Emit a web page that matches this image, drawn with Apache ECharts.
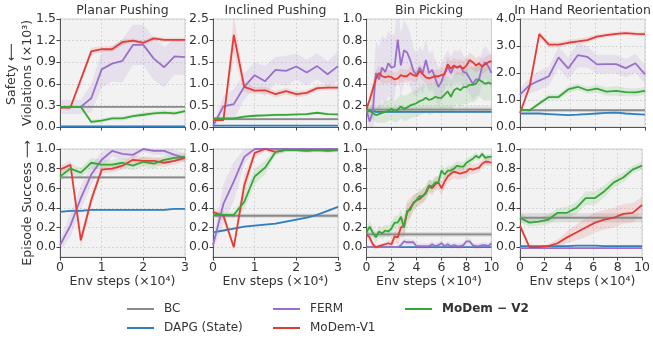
<!DOCTYPE html>
<html><head><meta charset="utf-8">
<script src="https://cdn.jsdelivr.net/npm/echarts@6/dist/echarts.min.js"></script>
<style>html,body{margin:0;padding:0;background:#fff}#c{width:653px;height:339px}</style>
</head><body><div id="c"></div><script>
// ---------- categories / x values ----------
const taskTitles = ['Planar Pushing','Inclined Pushing','Bin Picking','In Hand Reorientation'];
const methodNames = ['BC','DAPG (State)','FERM','MoDem-V1','MoDem − V2'];
const pushX = [0,0.25,0.5,0.75,1,1.25,1.5,1.75,2,2.25,2.5,2.75,3];
const binX = [0,0.25,0.5,0.75,1,1.25,1.5,1.75,2,2.25,2.5,2.75,3,3.25,3.5,3.75,4,4.25,4.5,4.75,5,5.25,5.5,5.75,6,6.25,6.5,6.75,7,7.25,7.5,7.75,8,8.25,8.5,8.75,9,9.25,9.5,9.75,10];
const handX = [0,0.77,1.54,2.31,3.08,3.85,4.62,5.38,6.15,6.92,7.69,8.46,9.23,10];
const pushXTicks = [0,1,2,3];
const longXTicks = [0,2,4,6,8,10];
const successTicks = [0,0.2,0.4,0.6,0.8,1.0];

// ---------- BC (constant) ----------
const bcSafety = [0.28,0.18,0.16,0.62];
const bcSafetySpread = [0.01,0.03,0.03,0.05];
const bcSuccess = [0.71,0.32,0.13,0.30];
const bcSuccessSpread = [0.015,0.02,0.025,0.045];

// ---------- Planar Pushing safety ----------
const planarSafetyDAPG = [0.01,0.01,0.01,0.01,0.01,0.01,0.01,0.01,0.01,0.01,0.01,0.01,0.01];
const planarSafetyDAPGSpread = [0.01,0.01,0.01,0.01,0.01,0.01,0.01,0.01,0.01,0.01,0.01,0.01,0.01];
const planarSafetyFERM = [0.28,0.28,0.28,0.4,0.8,0.88,0.92,1.14,1.14,0.95,0.83,0.98,0.97];
const planarSafetyFERMSpread = [0.1,0.1,0.1,0.2,0.25,0.25,0.3,0.28,0.28,0.3,0.28,0.25,0.25];
const planarSafetyV1 = [0.27,0.27,0.66,1.05,1.08,1.08,1.18,1.2,1.17,1.23,1.21,1.21,1.21];
const planarSafetyV1Spread = [0.02,0.02,0.05,0.05,0.04,0.04,0.04,0.03,0.03,0.03,0.03,0.03,0.03];
const planarSafetyV2 = [0.28,0.28,0.28,0.07,0.09,0.12,0.12,0.15,0.17,0.19,0.2,0.19,0.22];
const planarSafetyV2Spread = [0.02,0.02,0.02,0.03,0.03,0.03,0.03,0.03,0.03,0.03,0.03,0.03,0.03];

// ---------- Inclined Pushing safety ----------
const inclinedSafetyDAPG = [0.03,0.03,0.03,0.03,0.03,0.03,0.03,0.03,0.03,0.03,0.03,0.03,0.03];
const inclinedSafetyDAPGSpread = [0.01,0.01,0.01,0.01,0.01,0.01,0.01,0.01,0.01,0.01,0.01,0.01,0.01];
const inclinedSafetyFERM = [0.02,0.48,0.53,0.93,1.2,1.06,1.32,1.3,1.4,1.26,1.41,1.22,1.41];
const inclinedSafetyFERMSpread = [0.05,0.25,0.35,0.3,0.3,0.35,0.3,0.35,0.3,0.3,0.3,0.3,0.35];
const inclinedSafetyV1 = [0.16,0.16,2.13,0.93,0.84,0.85,0.76,0.83,0.76,0.79,0.9,0.91,0.91];
const inclinedSafetyV1Spread = [0.03,0.03,0.45,0.12,0.08,0.08,0.08,0.08,0.07,0.07,0.06,0.06,0.06];
const inclinedSafetyV2 = [0.2,0.2,0.2,0.24,0.26,0.27,0.28,0.28,0.29,0.3,0.33,0.3,0.29];
const inclinedSafetyV2Spread = [0.03,0.03,0.03,0.03,0.03,0.03,0.03,0.03,0.03,0.03,0.03,0.03,0.03];

// ---------- Bin Picking safety ----------
const binSafetyDAPG = [
0.15,0.15,0.15,0.14,0.14,0.14,0.14,0.14,0.14,0.14,
0.14,0.14,0.14,0.14,0.14,0.14,0.14,0.14,0.14,0.14,
0.14,0.14,0.14,0.14,0.14,0.14,0.14,0.14,0.14,0.14,
0.14,0.14,0.14,0.14,0.14,0.14,0.14,0.14,0.14,0.14,
0.14];
const binSafetyDAPGSpread = [
0.01,0.01,0.01,0.01,0.01,0.01,0.01,0.01,0.01,0.01,
0.01,0.01,0.01,0.01,0.01,0.01,0.01,0.01,0.01,0.01,
0.01,0.01,0.01,0.01,0.01,0.01,0.01,0.01,0.01,0.01,
0.01,0.01,0.01,0.01,0.01,0.01,0.01,0.01,0.01,0.01,
0.01];
const binSafetyFERM = [
0.16,0.05,0.14,0.5,0.44,0.55,0.51,0.59,0.55,0.56,
0.81,0.57,0.71,0.69,0.62,0.52,0.48,0.55,0.5,0.62,
0.5,0.53,0.45,0.37,0.42,0.5,0.56,0.5,0.56,0.55,
0.57,0.51,0.5,0.45,0.4,0.44,0.44,0.56,0.6,0.56,
0.5];
const binSafetyFERMSpread = [
0.05,0.1,0.2,0.3,0.3,0.3,0.3,0.3,0.3,0.3,
0.3,0.3,0.28,0.25,0.25,0.22,0.2,0.2,0.2,0.2,
0.18,0.18,0.18,0.18,0.16,0.16,0.15,0.15,0.15,0.15,
0.15,0.15,0.15,0.15,0.15,0.15,0.15,0.15,0.15,0.15,
0.15];
const binSafetyV1 = [
0.17,0.25,0.35,0.45,0.5,0.47,0.46,0.47,0.46,0.44,
0.45,0.48,0.47,0.47,0.5,0.48,0.47,0.52,0.49,0.46,
0.45,0.46,0.47,0.47,0.48,0.49,0.58,0.54,0.57,0.55,
0.56,0.54,0.57,0.62,0.6,0.57,0.59,0.56,0.58,0.6,
0.61];
const binSafetyV1Spread = [
0.02,0.04,0.06,0.07,0.07,0.07,0.06,0.06,0.06,0.06,
0.06,0.06,0.06,0.06,0.06,0.06,0.06,0.06,0.06,0.06,
0.06,0.06,0.06,0.06,0.06,0.06,0.07,0.07,0.07,0.07,
0.07,0.07,0.07,0.07,0.07,0.07,0.07,0.07,0.07,0.07,
0.07];
const binSafetyV2 = [
0.16,0.15,0.13,0.11,0.12,0.13,0.14,0.15,0.17,0.14,
0.16,0.19,0.17,0.18,0.2,0.21,0.22,0.24,0.25,0.27,
0.25,0.26,0.28,0.27,0.27,0.3,0.33,0.28,0.34,0.36,
0.34,0.37,0.37,0.39,0.39,0.4,0.44,0.42,0.4,0.41,
0.4];
const binSafetyV2Spread = [
0.03,0.05,0.06,0.07,0.08,0.09,0.1,0.1,0.1,0.1,
0.11,0.11,0.12,0.12,0.12,0.12,0.13,0.13,0.13,0.13,
0.14,0.14,0.14,0.14,0.15,0.15,0.15,0.15,0.15,0.15,
0.16,0.16,0.16,0.16,0.16,0.16,0.16,0.16,0.16,0.16,
0.16];

// ---------- In Hand Reorientation safety ----------
const handSafetyDAPG = [0.5,0.5,0.5,0.48,0.46,0.44,0.46,0.48,0.5,0.52,0.53,0.5,0.48,0.46];
const handSafetyDAPGSpread = [0.02,0.02,0.02,0.02,0.02,0.02,0.02,0.02,0.02,0.02,0.02,0.02,0.02,0.02];
const handSafetyFERM = [1.2,1.55,1.72,1.88,2.58,2.17,2.66,2.6,2.32,2.33,2.33,2.18,2.36,1.95];
const handSafetyFERMSpread = [0.2,0.3,0.35,0.35,0.4,0.4,0.45,0.4,0.35,0.35,0.35,0.35,0.35,0.35];
const handSafetyV1 = [0.52,1.5,3.44,3.05,3.05,3.12,3.17,3.22,3.35,3.4,3.45,3.48,3.45,3.44];
const handSafetyV1Spread = [0.05,0.1,0.12,0.12,0.1,0.1,0.1,0.1,0.08,0.08,0.08,0.08,0.08,0.08];
const handSafetyV2 = [0.64,0.62,0.87,1.11,1.11,1.39,1.49,1.36,1.42,1.31,1.34,1.29,1.28,1.34];
const handSafetyV2Spread = [0.05,0.05,0.08,0.1,0.1,0.12,0.12,0.12,0.15,0.15,0.18,0.15,0.15,0.15];

// ---------- Planar Pushing success ----------
const planarSuccessDAPG = [0.36,0.37,0.37,0.38,0.38,0.38,0.38,0.38,0.38,0.38,0.38,0.39,0.39];
const planarSuccessDAPGSpread = [0.01,0.01,0.01,0.01,0.01,0.01,0.01,0.01,0.01,0.01,0.01,0.01,0.01];
const planarSuccessFERM = [0.02,0.22,0.5,0.74,0.89,0.98,0.95,0.94,1.0,0.98,0.98,0.94,0.91];
const planarSuccessFERMSpread = [0.05,0.12,0.12,0.1,0.08,0.06,0.06,0.05,0.03,0.04,0.04,0.05,0.05];
const planarSuccessV1 = [0.79,0.84,0.07,0.48,0.79,0.8,0.83,0.89,0.88,0.88,0.86,0.88,0.91];
const planarSuccessV1Spread = [0.04,0.04,0.07,0.06,0.04,0.04,0.04,0.04,0.04,0.04,0.04,0.04,0.03];
const planarSuccessV2 = [0.72,0.8,0.76,0.86,0.84,0.84,0.86,0.83,0.87,0.85,0.89,0.91,0.92];
const planarSuccessV2Spread = [0.05,0.05,0.05,0.05,0.05,0.05,0.05,0.05,0.05,0.05,0.04,0.04,0.04];

// ---------- Inclined Pushing success ----------
const inclinedSuccessDAPG = [0.15,0.17,0.19,0.21,0.22,0.23,0.24,0.26,0.28,0.3,0.33,0.37,0.41];
const inclinedSuccessDAPGSpread = [0.01,0.01,0.01,0.01,0.01,0.01,0.01,0.01,0.01,0.01,0.01,0.01,0.01];
const inclinedSuccessFERM = [0.02,0.44,0.67,0.92,1.0,1.0,1.0,1.0,1.0,1.0,1.0,1.0,1.0];
const inclinedSuccessFERMSpread = [0.05,0.2,0.2,0.08,0.01,0.01,0.01,0.01,0.01,0.01,0.01,0.01,0.01];
const inclinedSuccessV1 = [0.36,0.32,0.0,0.63,0.96,1.0,0.97,0.99,0.99,0.98,0.99,0.98,0.99];
const inclinedSuccessV1Spread = [0.03,0.05,0.03,0.1,0.05,0.02,0.03,0.02,0.02,0.02,0.02,0.02,0.02];
const inclinedSuccessV2 = [0.33,0.33,0.33,0.46,0.72,0.81,0.97,0.99,0.99,0.99,0.99,0.99,0.99];
const inclinedSuccessV2Spread = [0.02,0.02,0.03,0.08,0.08,0.07,0.03,0.02,0.02,0.02,0.02,0.02,0.02];

// ---------- Bin Picking success ----------
const binSuccessDAPG = [
0,0,0,0,0,0,0,0,0,0,
0,0,0,0,0,0,0,0,0,0,
0,0,0,0,0,0,0,0,0,0,
0,0,0,0,0,0,0,0,0,0,
0];
const binSuccessDAPGSpread = [
0.005,0.005,0.005,0.005,0.005,0.005,0.005,0.005,0.005,0.005,
0.005,0.005,0.005,0.005,0.005,0.005,0.005,0.005,0.005,0.005,
0.005,0.005,0.005,0.005,0.005,0.005,0.005,0.005,0.005,0.005,
0.005,0.005,0.005,0.005,0.005,0.005,0.005,0.005,0.005,0.005,
0.005];
const binSuccessFERM = [
0,0,0,0,0,0,0,0,0,0,
0,0.02,0.06,0.05,0.05,0.05,0.01,0.01,0.01,0.01,
0.01,0.03,0.01,0.02,0.04,0.01,0.03,0.01,0.02,0.01,
0.01,0.02,0.06,0.06,0.02,0.01,0.01,0.02,0.02,0.01,
0.04];
const binSuccessFERMSpread = [
0.01,0.01,0.01,0.01,0.01,0.01,0.01,0.01,0.01,0.01,
0.01,0.03,0.03,0.03,0.03,0.03,0.03,0.03,0.03,0.03,
0.03,0.03,0.03,0.03,0.03,0.03,0.03,0.03,0.03,0.03,
0.03,0.03,0.03,0.03,0.03,0.03,0.03,0.03,0.03,0.03,
0.03];
const binSuccessV1 = [
0.13,0.1,0.03,0.0,0.01,0.02,0.03,0.04,0.03,0.11,
0.1,0.2,0.22,0.35,0.4,0.45,0.48,0.49,0.52,0.55,
0.62,0.6,0.64,0.66,0.6,0.67,0.72,0.75,0.77,0.76,
0.75,0.76,0.77,0.8,0.79,0.8,0.81,0.85,0.87,0.87,
0.86];
const binSuccessV1Spread = [
0.04,0.04,0.03,0.02,0.02,0.02,0.02,0.03,0.04,0.06,
0.08,0.1,0.12,0.12,0.1,0.08,0.07,0.07,0.07,0.07,
0.07,0.07,0.07,0.07,0.07,0.07,0.07,0.07,0.07,0.07,
0.06,0.06,0.06,0.06,0.05,0.05,0.05,0.04,0.04,0.04,
0.04];
const binSuccessV2 = [
0.15,0.21,0.15,0.1,0.16,0.14,0.17,0.16,0.19,0.25,
0.25,0.31,0.2,0.37,0.38,0.45,0.48,0.52,0.52,0.56,
0.63,0.62,0.66,0.66,0.78,0.74,0.78,0.78,0.8,0.83,
0.82,0.82,0.86,0.88,0.9,0.93,0.91,0.95,0.91,0.92,
0.92];
const binSuccessV2Spread = [
0.05,0.06,0.06,0.06,0.06,0.06,0.06,0.06,0.06,0.07,
0.07,0.07,0.08,0.08,0.08,0.08,0.07,0.07,0.07,0.07,
0.06,0.06,0.06,0.06,0.06,0.06,0.05,0.05,0.05,0.05,
0.05,0.05,0.04,0.04,0.04,0.04,0.03,0.03,0.03,0.03,
0.03];

// ---------- In Hand Reorientation success ----------
const handSuccessDAPG = [0.01,0.01,0.01,0.01,0.01,0.01,0.015,0.015,0.015,0.01,0.01,0.01,0.01,0.01];
const handSuccessDAPGSpread = [0.005,0.005,0.005,0.005,0.005,0.005,0.005,0.005,0.005,0.005,0.005,0.005,0.005,0.005];
const handSuccessFERM = [-0.01,-0.01,-0.01,-0.01,-0.01,-0.01,-0.01,-0.01,-0.01,-0.01,-0.01,-0.01,-0.01,-0.01];
const handSuccessFERMSpread = [0.005,0.005,0.005,0.005,0.005,0.005,0.005,0.005,0.005,0.005,0.005,0.005,0.005,0.005];
const handSuccessV1 = [0.22,0.0,0.0,0.01,0.04,0.1,0.15,0.2,0.25,0.28,0.3,0.34,0.35,0.43];
const handSuccessV1Spread = [0.03,0.01,0.01,0.02,0.04,0.06,0.08,0.1,0.1,0.1,0.1,0.1,0.1,0.08];
const handSuccessV2 = [0.3,0.25,0.26,0.28,0.35,0.35,0.4,0.5,0.5,0.57,0.66,0.71,0.79,0.83];
const handSuccessV2Spread = [0.05,0.04,0.04,0.05,0.05,0.06,0.06,0.07,0.07,0.06,0.05,0.05,0.04,0.04];

// ---------- styling / layout ----------
const FONT = 'DejaVu Sans';
const FS = 12.5;
const COLORS = ['#8a8a8a','#2f7ec0','#9a6fcc','#e33b37','#36a636'];
const LEFTS = [60, 213, 366.5, 520];
const PW = 125, PH = 108, TOPS = [19, 149];

const panels = [
  {row:0,col:0,xs:pushX,xmax:3,xticks:pushXTicks,ymax:1.5,yint:0.3,bc:0,
   m:[[planarSafetyDAPG,planarSafetyDAPGSpread],[planarSafetyFERM,planarSafetyFERMSpread],[planarSafetyV1,planarSafetyV1Spread],[planarSafetyV2,planarSafetyV2Spread]]},
  {row:0,col:1,xs:pushX,xmax:3,xticks:pushXTicks,ymax:2.5,yint:0.5,bc:1,
   m:[[inclinedSafetyDAPG,inclinedSafetyDAPGSpread],[inclinedSafetyFERM,inclinedSafetyFERMSpread],[inclinedSafetyV1,inclinedSafetyV1Spread],[inclinedSafetyV2,inclinedSafetyV2Spread]]},
  {row:0,col:2,xs:binX,xmax:10,xticks:longXTicks,ymax:1.0,yint:0.2,bc:2,
   m:[[binSafetyDAPG,binSafetyDAPGSpread],[binSafetyFERM,binSafetyFERMSpread],[binSafetyV1,binSafetyV1Spread],[binSafetyV2,binSafetyV2Spread]]},
  {row:0,col:3,xs:handX,xmax:10,xticks:longXTicks,ymax:4.0,yint:1.0,bc:3,
   m:[[handSafetyDAPG,handSafetyDAPGSpread],[handSafetyFERM,handSafetyFERMSpread],[handSafetyV1,handSafetyV1Spread],[handSafetyV2,handSafetyV2Spread]]},
  {row:1,col:0,xs:pushX,xmax:3,xticks:pushXTicks,bc:0,
   m:[[planarSuccessDAPG,planarSuccessDAPGSpread],[planarSuccessFERM,planarSuccessFERMSpread],[planarSuccessV1,planarSuccessV1Spread],[planarSuccessV2,planarSuccessV2Spread]]},
  {row:1,col:1,xs:pushX,xmax:3,xticks:pushXTicks,bc:1,
   m:[[inclinedSuccessDAPG,inclinedSuccessDAPGSpread],[inclinedSuccessFERM,inclinedSuccessFERMSpread],[inclinedSuccessV1,inclinedSuccessV1Spread],[inclinedSuccessV2,inclinedSuccessV2Spread]]},
  {row:1,col:2,xs:binX,xmax:10,xticks:longXTicks,bc:2,
   m:[[binSuccessDAPG,binSuccessDAPGSpread],[binSuccessFERM,binSuccessFERMSpread],[binSuccessV1,binSuccessV1Spread],[binSuccessV2,binSuccessV2Spread]]},
  {row:1,col:3,xs:handX,xmax:10,xticks:longXTicks,bc:3,
   m:[[handSuccessDAPG,handSuccessDAPGSpread],[handSuccessFERM,handSuccessFERMSpread],[handSuccessV1,handSuccessV1Spread],[handSuccessV2,handSuccessV2Spread]]}
];

const grids = [], xAxes = [], yAxes = [], series = [];
const axisTxt = {color:'#333', fontSize:FS, fontFamily:FONT};
const gridLine = {show:true, lineStyle:{color:'#c4c4c4', type:[1.5,2.5], width:0.8}};

function band(gi, xs, lo, hi, color, alpha, z) {
  return {
    type:'custom', xAxisIndex:gi, yAxisIndex:gi, silent:true, clip:true, z:z, animation:false,
    data: xs.map((x,i)=>[x, lo[i], hi[i]]),
    encode:{x:0, y:[1,2]},
    renderItem:(params, api)=>{
      if (params.dataIndex !== 0) return null;
      const pts = [];
      for (let i=0;i<xs.length;i++) pts.push(api.coord([xs[i], hi[i]]));
      for (let i=xs.length-1;i>=0;i--) pts.push(api.coord([xs[i], lo[i]]));
      return {type:'polygon', shape:{points:pts}, style:{fill:color, opacity:alpha}};
    }
  };
}
function line(gi, name, xs, ys, color, z) {
  return {type:'line', name:name, xAxisIndex:gi, yAxisIndex:gi, symbol:'none', showSymbol:false,
    data: xs.map((x,i)=>[x, ys[i]]), lineStyle:{width:1.8, color:color}, itemStyle:{color:color},
    z:z, animation:false, silent:true, clip:true};
}

panels.forEach((p, gi) => {
  grids.push({left:LEFTS[p.col], top:TOPS[p.row], width:PW, height:PH, show:true,
    backgroundColor:'#f2f2f2', borderColor:'#cfcfcf', borderWidth:1, containLabel:false});
  xAxes.push({type:'value', gridIndex:gi, min:0, max:p.xmax, interval:p.xmax===3?1:2,
    axisLine:{show:true, onZero:false, lineStyle:{color:'#555', width:1}},
    axisTick:{show:true, inside:false, length:3.5, lineStyle:{color:'#444'}},
    axisLabel:{show:p.row===1, margin:4, ...axisTxt},
    splitLine:gridLine});
  if (p.row===0) {
    yAxes.push({type:'value', gridIndex:gi, min:0, max:p.ymax, interval:p.yint,
      axisLine:{show:true, onZero:false, lineStyle:{color:'#555', width:1}},
      axisTick:{show:true, inside:false, length:3.5, lineStyle:{color:'#444'}},
      axisLabel:{margin:4, formatter:v=>v.toFixed(1), ...axisTxt},
      splitLine:gridLine});
  } else {
    yAxes.push({type:'value', gridIndex:gi, min:-0.1, max:1.0,
      axisLine:{show:true, onZero:false, lineStyle:{color:'#555', width:1}},
      axisTick:{show:true, inside:false, length:3.5, customValues:successTicks, lineStyle:{color:'#444'}},
      axisLabel:{margin:4, customValues:successTicks, formatter:v=>v.toFixed(1), ...axisTxt},
      splitLine:gridLine});
  }
  const bcV = p.row===0 ? bcSafety[p.bc] : bcSuccess[p.bc];
  const bcS = p.row===0 ? bcSafetySpread[p.bc] : bcSuccessSpread[p.bc];
  const bx = [0, p.xmax];
  series.push(band(gi, bx, [bcV-bcS, bcV-bcS], [bcV+bcS, bcV+bcS], COLORS[0], 0.22, 1));
  p.m.forEach((pair, k) => {
    const [ys, sp] = pair;
    series.push(band(gi, p.xs, ys.map((v,i)=>v-sp[i]), ys.map((v,i)=>v+sp[i]), COLORS[k+1], 0.13, 1));
  });
  series.push(line(gi, methodNames[0], bx, [bcV, bcV], COLORS[0], 3));
  p.m.forEach((pair, k) => {
    series.push(line(gi, methodNames[k+1], p.xs, pair[0], COLORS[k+1], 4+k));
  });
});

const graphic = [];
const txtFont = FS + 'px "DejaVu Sans"';
taskTitles.forEach((t, c) => {
  graphic.push({type:'text', x:LEFTS[c]+PW/2, y:11, silent:true,
    style:{text:t, fill:'#333', font:txtFont, textAlign:'center', textVerticalAlign:'middle'}});
  graphic.push({type:'text', x:LEFTS[c]+PW/2, y:282, silent:true,
    style:{text:'Env steps (×10⁴)', fill:'#333', font:txtFont, textAlign:'center', textVerticalAlign:'middle'}});
});
graphic.push({type:'text', x:12, y:74, rotation:Math.PI/2, silent:true,
  style:{text:'Safety ⟵', fill:'#333', font:txtFont, textAlign:'center', textVerticalAlign:'middle'}});
graphic.push({type:'text', x:28, y:73, rotation:Math.PI/2, silent:true,
  style:{text:'Violations (×10³)', fill:'#333', font:txtFont, textAlign:'center', textVerticalAlign:'middle'}});
graphic.push({type:'text', x:28, y:203, rotation:Math.PI/2, silent:true,
  style:{text:'Episode Success ⟶', fill:'#333', font:txtFont, textAlign:'center', textVerticalAlign:'middle'}});

function legendAt(left, names, bold) {
  return {left:left, top:302, height:40, padding:0, orient:'vertical', itemWidth:27, itemHeight:2, itemGap:5, icon:'rect',
    data:names, selectedMode:false,
    textStyle:{color:'#333', fontSize:12, fontFamily:FONT, fontWeight:bold?'bold':'normal', padding:[0,0,0,5], lineHeight:14}};
}

const option = {
  backgroundColor:'#ffffff',
  animation:false,
  grid:grids, xAxis:xAxes, yAxis:yAxes, series:series, graphic:graphic,
  legend:[legendAt(127,[methodNames[0],methodNames[1]],false),
          legendAt(273,[methodNames[2],methodNames[3]],false),
          legendAt(405,[methodNames[4]],true)]
};
const chart = echarts.init(document.getElementById('c'), null, {renderer:'canvas'});
chart.setOption(option);
</script></body></html>
